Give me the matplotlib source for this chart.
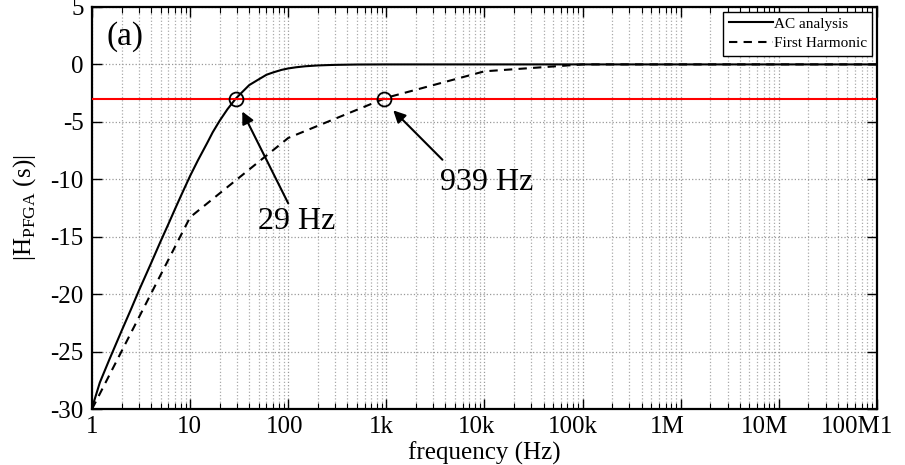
import numpy as np
import matplotlib
matplotlib.use("Agg")
import matplotlib.pyplot as plt
import matplotlib.transforms as mtransforms

plt.rcParams['font.family'] = ['Liberation Serif', 'DejaVu Serif']
plt.rcParams['mathtext.fontset'] = 'custom'
plt.rcParams['mathtext.rm'] = 'Liberation Serif'

# AC analysis
ac_freq = [1, 1.2, 1.5, 2, 2.5, 3, 4, 5, 6, 7, 8, 10, 12, 15, 17, 20, 24,
           29, 34, 40, 50, 60, 70, 85, 100, 120, 150, 200, 250, 300, 500,
           1000, 1e4, 1e5, 1e6, 1e7, 1e8]
ac_mag = [-29.9, -27.7, -25.7, -23.2, -21.3, -19.7, -17.3, -15.4, -13.9,
          -12.6, -11.5, -9.7, -8.35, -6.8, -5.9, -4.9, -3.9, -3.0, -2.4,
          -1.8, -1.3, -0.9, -0.7, -0.48, -0.35, -0.25, -0.16, -0.09, -0.06,
          -0.04, -0.01, 0, 0, 0, 0, 0, 0]

# First harmonic
fh_freq = [1, 10, 100, 1000, 1e4, 1e5, 1e6, 1e7, 1e8]
fh_mag = [-30, -13.3, -6.4, -2.9, -0.6, 0, 0, 0, 0]

cut_freq = [29, 939]
cut_level = -3

xticks = [1, 10, 100, 1e3, 1e4, 1e5, 1e6, 1e7, 1e8]
xlabels = ['1', '10', '100', '1k', '10k', '100k', '1M', '10M', '100M1']
xlabel_shift = [0, -1, -4, -5, -8, -10, -13, -14, -20]  # px, as in the picture
yticks = [-30, -25, -20, -15, -10, -5, 0, 5]

fig = plt.figure(figsize=(9.05, 4.65), dpi=100)
ax = fig.add_axes([0.1017, 0.1204, 0.8673, 0.8646])

ax.plot(ac_freq, ac_mag, color='black', lw=1.5, label='AC analysis')
ax.plot(fh_freq, fh_mag, color='black', lw=1.5, ls=(0, (4, 3)),
        label='First Harmonic')
ax.axhline(cut_level, color='red', lw=1.5, zorder=3)
ax.plot(cut_freq, [cut_level] * 2, 'o', ms=10, mfc='none', mec='black',
        mew=1.3, zorder=4)

ax.set_xscale('log')
ax.set_xlim(1, 1e8)
ax.set_ylim(-30, 5)
ax.set_yticks(yticks)
ax.set_yticklabels([str(v) for v in yticks], fontsize=18)
ax.set_xticks(xticks)
ax.set_xticklabels([])

# x tick labels placed by hand to keep the original's offsets
base = mtransforms.blended_transform_factory(ax.transData, ax.transAxes)
for f, lab, dx in zip(xticks, xlabels, xlabel_shift):
    tr = base + mtransforms.ScaledTranslation(dx / 100, -7 / 100,
                                              fig.dpi_scale_trans)
    ax.text(f, 0, lab, transform=tr, ha='center', va='top', fontsize=18)

ax.tick_params(which='both', direction='in', top=True, right=True)
ax.tick_params(which='major', length=7, width=1)
ax.tick_params(which='minor', length=4, width=0.8)
ax.tick_params(axis='y', pad=6)
ax.grid(True, which='major', ls=':', color='#999999', lw=0.9)
ax.grid(True, which='minor', axis='x', ls=':', color='#aaaaaa', lw=0.9)
for s in ax.spines.values():
    s.set_linewidth(1.6)

ax.set_xlabel('frequency (Hz)', fontsize=18, labelpad=20)
ax.set_ylabel(r'|H$_{\mathrm{PFGA}}$ (s)|', fontsize=18, labelpad=9)

ax.text(0.019, 0.965, '(a)', transform=ax.transAxes, ha='left', va='top',
        fontsize=24)

arrow = dict(arrowstyle='-|>', color='black', lw=1.5, mutation_scale=18,
             shrinkA=0, shrinkB=0)
ax.annotate('', xy=(34, -4.1), xytext=(100, -12.1), arrowprops=arrow)
ax.text(121, -13.7, '29 Hz', ha='center', va='center', fontsize=23)
ax.annotate('', xy=(1175, -4.0), xytext=(3727, -8.3), arrowprops=arrow)
ax.text(10500, -10.3, '939 Hz', ha='center', va='center', fontsize=23)

leg = ax.legend(loc='upper right', fontsize=11, fancybox=False,
                edgecolor='black', framealpha=1, borderaxespad=0.3,
                handlelength=2.9, handletextpad=0.05, borderpad=0.35,
                labelspacing=0.4)
leg.get_frame().set_linewidth(1.0)

fig.savefig('out.png', dpi=100)
